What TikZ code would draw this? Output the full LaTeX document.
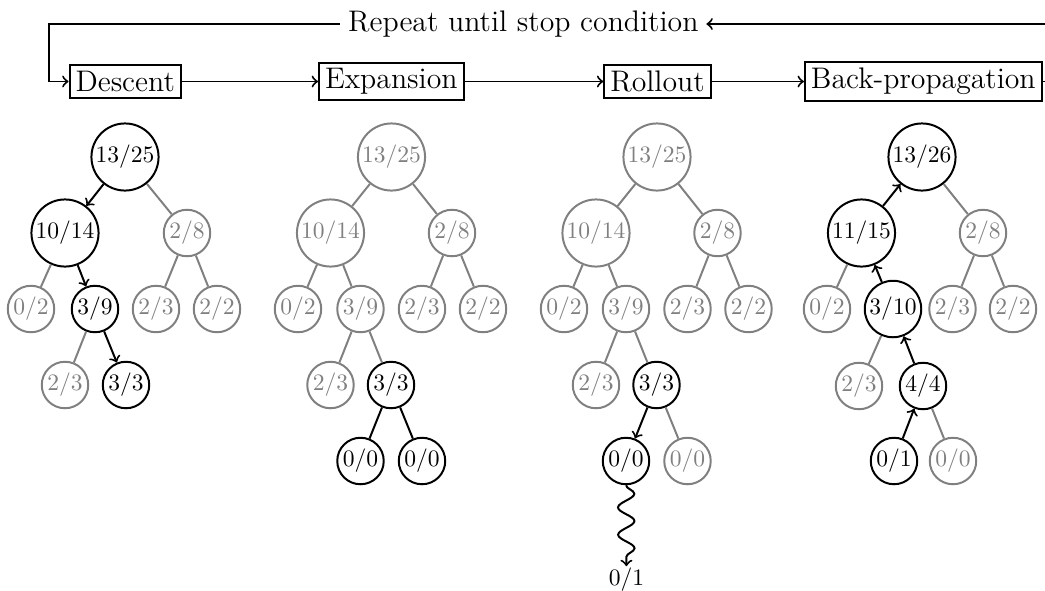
\documentclass[tikz,border=0pt]{standalone}
\usetikzlibrary{decorations.pathmorphing}
\begin{document}
\begin{tikzpicture}[x=0.4032pt,y=-0.4032pt,
  stage/.style={draw,thick,inner sep=2.4pt,font=\fontsize{12}{14}\selectfont},
  looptext/.style={inner sep=3pt,font=\fontsize{12}{14}\selectfont},
  bn/.style={circle,draw,thick,inner sep=0.6pt,font=\fontsize{9.5}{11}\selectfont},
  gn/.style={bn,draw=gray,text=gray},
  plain/.style={inner sep=0.6pt,font=\fontsize{9.5}{11}\selectfont},
  ge/.style={draw=gray,thick},
  be/.style={draw=black,thick},
  ba/.style={draw=black,thick,->},
  link/.style={thick,->},
  wave/.style={thick,->,decorate,decoration={snake,amplitude=3.3pt,segment length=11pt,post length=1mm}}]
\clip (0,0) rectangle (1045,590);

% ---------- stage boxes ----------
\node[stage] (desc) at (125.2,81.5) {Descent};
\node[stage] (expa) at (391.3,81.5) {Expansion};
\node[stage] (roll) at (657.5,81.5) {Rollout};
\node[stage] (back) at (923.3,81.5) {Back-propagation};
\node[looptext] (rep) at (523.3,24) {Repeat until stop condition};
\coordinate (loopL) at (49,81.5);
\coordinate (loopR) at (1070,81.5);

\draw[link] (desc) -- (expa);
\draw[link] (expa) -- (roll);
\draw[link] (roll) -- (back);
\draw[link] (back.east) -- (loopR) |- (rep.east);
\draw[link] (rep.west) -| (loopL) -- (desc.west);

% ---------- tree 1: descent ----------
\node[bn] (a0) at (125,157) {13/25};
\node[bn] (a1) at (65,233) {10/14};
\node[gn] (a2) at (187,233) {2/8};
\node[gn] (a3) at (31,309) {0/2};
\node[bn] (a4) at (95,309) {3/9};
\node[gn] (a5) at (156,309) {2/3};
\node[gn] (a6) at (217,309) {2/2};
\node[gn] (a7) at (65,385) {2/3};
\node[bn] (a8) at (126,385) {3/3};
\draw[ba] (a0) -- (a1);
\draw[ge] (a0) -- (a2);
\draw[ge] (a1) -- (a3);
\draw[ba] (a1) -- (a4);
\draw[ge] (a2) -- (a5);
\draw[ge] (a2) -- (a6);
\draw[ge] (a4) -- (a7);
\draw[ba] (a4) -- (a8);

% ---------- tree 2: expansion ----------
\node[gn] (b0) at (391.5,157) {13/25};
\node[gn] (b1) at (330.5,233) {10/14};
\node[gn] (b2) at (452,233) {2/8};
\node[gn] (b3) at (298,309) {0/2};
\node[gn] (b4) at (360.5,309) {3/9};
\node[gn] (b5) at (422,309) {2/3};
\node[gn] (b6) at (483,309) {2/2};
\node[gn] (b7) at (330.5,385) {2/3};
\node[bn] (b8) at (391,385) {3/3};
\node[bn] (b9) at (360.5,461) {0/0};
\node[bn] (b10) at (422,461) {0/0};
\draw[ge] (b0) -- (b1);
\draw[ge] (b0) -- (b2);
\draw[ge] (b1) -- (b3);
\draw[ge] (b1) -- (b4);
\draw[ge] (b2) -- (b5);
\draw[ge] (b2) -- (b6);
\draw[ge] (b4) -- (b7);
\draw[ge] (b4) -- (b8);
\draw[be] (b8) -- (b9);
\draw[be] (b8) -- (b10);

% ---------- tree 3: rollout ----------
\node[gn] (c0) at (657,157) {13/25};
\node[gn] (c1) at (596,233) {10/14};
\node[gn] (c2) at (717.5,233) {2/8};
\node[gn] (c3) at (564,309) {0/2};
\node[gn] (c4) at (626,309) {3/9};
\node[gn] (c5) at (687.5,309) {2/3};
\node[gn] (c6) at (748.5,309) {2/2};
\node[gn] (c7) at (596,385) {2/3};
\node[bn] (c8) at (656.5,385) {3/3};
\node[bn] (c9) at (626,461) {0/0};
\node[gn] (c10) at (687.5,461) {0/0};
\node[plain] (c11) at (626.5,580) {0/1};
\draw[ge] (c0) -- (c1);
\draw[ge] (c0) -- (c2);
\draw[ge] (c1) -- (c3);
\draw[ge] (c1) -- (c4);
\draw[ge] (c2) -- (c5);
\draw[ge] (c2) -- (c6);
\draw[ge] (c4) -- (c7);
\draw[ge] (c4) -- (c8);
\draw[ba] (c8) -- (c9);
\draw[ge] (c8) -- (c10);
\draw[wave] (c9) -- (c11);

% ---------- tree 4: back-propagation ----------
\node[bn] (d0) at (922,157) {13/26};
\node[bn] (d1) at (861.5,233) {11/15};
\node[gn] (d2) at (983,233) {2/8};
\node[gn] (d3) at (827,309) {0/2};
\node[bn] (d4) at (893,309) {3/10};
\node[gn] (d5) at (952.5,309) {2/3};
\node[gn] (d6) at (1013,309) {2/2};
\node[gn] (d7) at (859,386) {2/3};
\node[bn] (d8) at (923,386) {4/4};
\node[bn] (d9) at (894,461) {0/1};
\node[gn] (d10) at (953,461) {0/0};
\draw[ba] (d1) -- (d0);
\draw[ge] (d0) -- (d2);
\draw[ge] (d1) -- (d3);
\draw[ba] (d4) -- (d1);
\draw[ge] (d2) -- (d5);
\draw[ge] (d2) -- (d6);
\draw[ge] (d4) -- (d7);
\draw[ba] (d8) -- (d4);
\draw[ba] (d9) -- (d8);
\draw[ge] (d8) -- (d10);
\end{tikzpicture}
\end{document}
